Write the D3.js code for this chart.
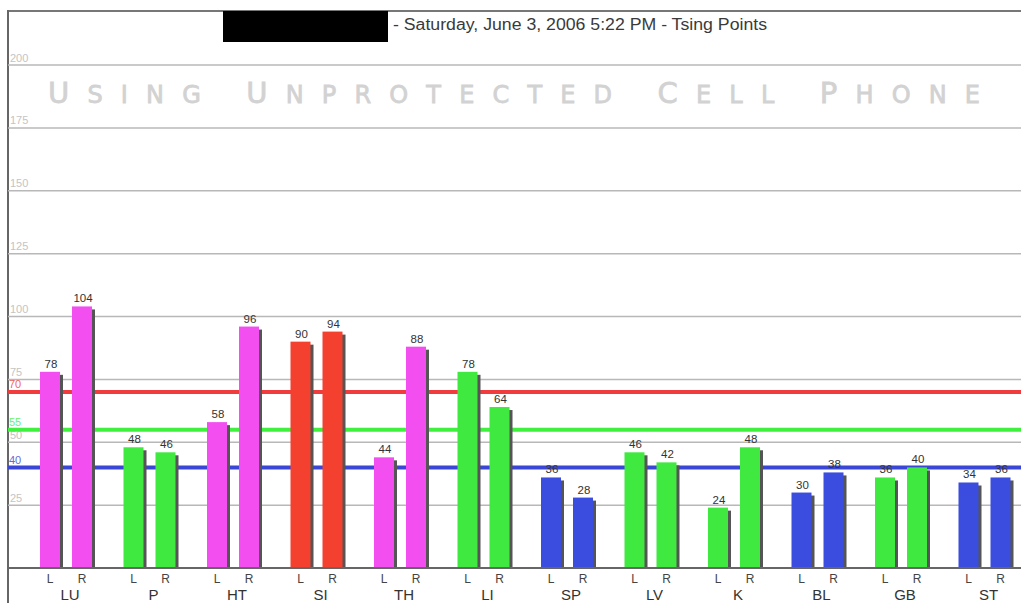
<!DOCTYPE html>
<html>
<head>
<meta charset="utf-8">
<script src="https://cdn.jsdelivr.net/npm/d3@7"></script>
<style>
  html, body { margin: 0; padding: 0; background: #fff; }
  svg { display: block; }
</style>
</head>
<body>
<svg id="chart"></svg>
<script>
// chart values
const groups = ["LU", "P", "HT", "SI", "TH", "LI", "SP", "LV", "K", "BL", "GB", "ST"];
const sides = ["L", "R"];
const leftValues = [78, 48, 58, 90, 44, 78, 36, 46, 24, 30, 36, 34];
const rightValues = [104, 46, 96, 94, 88, 64, 28, 42, 48, 38, 40, 36];
const groupColors = ["magenta", "green", "magenta", "red", "magenta", "green", "blue", "green", "green", "blue", "green", "blue"];
const yTicks = [25, 50, 75, 100, 125, 150, 175, 200];
const thresholds = [
  { value: 70, color: "red" },
  { value: 55, color: "green" },
  { value: 40, color: "blue" }
];
const titleText = "- Saturday, June 3, 2006 5:22 PM - Tsing Points";
const watermarkWords = ["Using", "Unprotected", "Cell", "Phone"];

const palette = { magenta: "#f24ef0", green: "#3fe93f", red: "#f4412f", blue: "#3b4ddf" };
const linePalette = { red: "#f03c3c", green: "#3ff03f", blue: "#3a46d6" };
const font = "Liberation Sans, Arial, sans-serif";

const W = 1021, H = 603;
const svg = d3.select("#chart").attr("width", W).attr("height", H);

const left = 8, right = W;
const y = d3.scaleLinear().domain([0, 200]).range([568, 65]);

// group band + L/R sub-band
const x = d3.scaleBand().domain(groups).range([24.25, 24.25 + 83.5 * groups.length]).padding(0);
const xs = d3.scaleBand().domain(sides)
  .range([x.bandwidth() / 2 - 26, x.bandwidth() / 2 + 26])
  .paddingInner(0.375).paddingOuter(0);

// frame
svg.append("line").attr("x1", left).attr("x2", right).attr("y1", 11).attr("y2", 11)
  .attr("stroke", "#777").attr("stroke-width", 2);
svg.append("line").attr("x1", left).attr("x2", left).attr("y1", 10).attr("y2", H)
  .attr("stroke", "#666").attr("stroke-width", 2);

// title
svg.append("rect").attr("x", 223).attr("y", 11).attr("width", 165).attr("height", 31).attr("fill", "#000");
svg.append("text").attr("x", 393).attr("y", 30)
  .attr("textLength", 374).attr("lengthAdjust", "spacingAndGlyphs")
  .attr("font-family", font).attr("font-size", 16).attr("fill", "#3a3a3a")
  .text(titleText);

// gridlines
const grid = svg.append("g");
grid.selectAll("line").data(yTicks).join("line")
  .attr("x1", left).attr("x2", right)
  .attr("y1", d => y(d)).attr("y2", d => y(d))
  .attr("stroke", "#b8b8b8").attr("stroke-width", 1.5);
grid.selectAll("text").data(yTicks).join("text")
  .attr("x", 10).attr("y", d => y(d) - 3.5)
  .attr("font-family", font).attr("font-size", 11)
  .attr("fill", "#c4c4c4")
  .text(d => d);

// watermark, small caps made by hand
const wm = svg.append("text")
  .attr("x", 48).attr("y", 103)
  .attr("textLength", 932).attr("lengthAdjust", "spacing")
  .attr("font-family", "DejaVu Sans, sans-serif")
  .attr("fill", "#d2d2d2").attr("stroke", "#d2d2d2").attr("stroke-width", 0.8);
watermarkWords.forEach((w, i) => {
  wm.append("tspan").attr("font-size", 29).text((i > 0 ? " " : "") + w[0].toUpperCase());
  wm.append("tspan").attr("font-size", 24).text(w.slice(1).toUpperCase());
});

// threshold lines
const th = svg.append("g");
th.selectAll("line").data(thresholds).join("line")
  .attr("x1", left).attr("x2", right)
  .attr("y1", d => y(d.value)).attr("y2", d => y(d.value))
  .attr("stroke", d => linePalette[d.color]).attr("stroke-width", 4);
th.selectAll("text").data(thresholds).join("text")
  .attr("x", 9).attr("y", d => y(d.value) - 3.5)
  .attr("font-family", font).attr("font-size", 11)
  .attr("fill", d => linePalette[d.color]).attr("opacity", 0.8)
  .text(d => d.value);

// bars
const rows = [];
groups.forEach((g, i) => {
  rows.push({ group: g, side: "L", value: leftValues[i], color: groupColors[i] });
  rows.push({ group: g, side: "R", value: rightValues[i], color: groupColors[i] });
});

const bars = svg.append("g");
// shadow
bars.selectAll("rect.shadow").data(rows).join("rect")
  .attr("class", "shadow")
  .attr("x", d => x(d.group) + xs(d.side) + 3)
  .attr("y", d => y(d.value) + 3)
  .attr("width", xs.bandwidth())
  .attr("height", d => y(0) - y(d.value) - 3)
  .attr("fill", "#555");
bars.selectAll("rect.bar").data(rows).join("rect")
  .attr("class", "bar")
  .attr("x", d => x(d.group) + xs(d.side))
  .attr("y", d => y(d.value))
  .attr("width", xs.bandwidth())
  .attr("height", d => y(0) - y(d.value))
  .attr("fill", d => palette[d.color]);
bars.selectAll("text").data(rows).join("text")
  .attr("x", d => x(d.group) + xs(d.side) + xs.bandwidth() / 2 + 1)
  .attr("y", d => y(d.value) - 4)
  .attr("text-anchor", "middle")
  .attr("font-family", font).attr("font-size", 11.5)
  .attr("fill", "#333")
  .text(d => d.value);

// baseline axis
svg.append("line").attr("x1", left).attr("x2", right).attr("y1", y(0)).attr("y2", y(0))
  .attr("stroke", "#666").attr("stroke-width", 2);

// L / R labels
svg.append("g").selectAll("text").data(rows).join("text")
  .attr("x", d => x(d.group) + xs(d.side) + xs.bandwidth() / 2)
  .attr("y", 583)
  .attr("text-anchor", "middle")
  .attr("font-family", font).attr("font-size", 12)
  .attr("fill", "#444")
  .text(d => d.side);

// group labels
svg.append("g").selectAll("text").data(groups).join("text")
  .attr("x", d => x(d) + x.bandwidth() / 2 + 4)
  .attr("y", 600)
  .attr("text-anchor", "middle")
  .attr("font-family", font).attr("font-size", 15)
  .attr("fill", "#333")
  .text(d => d);
</script>
</body>
</html>
